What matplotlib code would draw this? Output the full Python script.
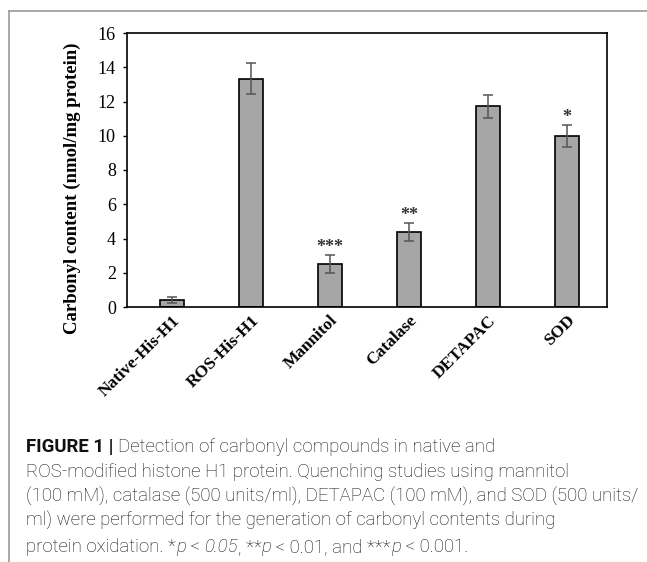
import matplotlib.pyplot as plt
from matplotlib.lines import Line2D
import numpy as np

# data
groups = ["Native-His-H1", "ROS-His-H1", "Mannitol", "Catalase", "DETAPAC", "SOD"]
carbonyl = [0.43, 13.33, 2.51, 4.36, 11.72, 9.97]
errors = [0.17, 0.90, 0.51, 0.53, 0.68, 0.63]
stars = ["", "", "***", "**", "", "*"]
yticks = [0, 2, 4, 6, 8, 10, 12, 14, 16]

serif = ["Liberation Serif", "DejaVu Serif"]

fig = plt.figure(figsize=(6.47, 5.62), dpi=100)
ax = fig.add_axes([127 / 647, 1 - 307 / 562, 480 / 647, 274 / 562])

x = np.arange(len(groups))
ax.bar(x, carbonyl, width=0.31, color="#a6a6a6", edgecolor="black", linewidth=1.2, zorder=2)
ax.errorbar(x, carbonyl, yerr=errors, fmt="none", ecolor="#555555", elinewidth=1.1,
            capsize=3.5, capthick=1.1, zorder=3)
for xi, v, e, s in zip(x, carbonyl, errors, stars):
    if s:
        ax.text(xi, v + e + 0.45, s, ha="center", va="center", fontsize=13,
                fontweight="bold", family=serif, color="#333333")

ax.set_xlim(-0.57, 5.51)
ax.set_ylim(0, 16)
ax.set_yticks(yticks)
ax.set_yticklabels([str(t) for t in yticks], family=serif, fontsize=13)
ax.tick_params(axis="y", direction="out", length=3, width=1, pad=5)
ax.tick_params(axis="x", length=0, pad=4)
ax.set_xticks(x)
ax.set_xticklabels(groups, rotation=45, ha="right", va="top", rotation_mode="anchor",
                   family=serif, fontweight="bold", fontsize=12.5)
for sp in ax.spines.values():
    sp.set_linewidth(1.2)

fig.text(72 / 647, 1 - 188 / 562, "Carbonyl content (nmol/mg protein)", rotation=90,
         ha="center", va="center", family=serif, fontweight="bold", fontsize=13.5)

# outer frame lines
fig.add_artist(Line2D([9 / 647, 1], [1 - 11 / 562, 1 - 11 / 562], color="#9a9a9a", lw=1.2))
fig.add_artist(Line2D([9 / 647, 9 / 647], [1 - 11 / 562, 0], color="#9a9a9a", lw=1.2))

# caption
cap_font = ["Roboto", "DejaVu Sans"]
cap_size = 13.4
lines = [
    "ROS-modified histone H1 protein. Quenching studies using mannitol",
    "(100 mM), catalase (500 units/ml), DETAPAC (100 mM), and SOD (500 units/",
    "ml) were performed for the generation of carbonyl contents during",
]
ys = [447, 472, 497, 521, 547]
fig.canvas.draw()
renderer = fig.canvas.get_renderer()


def run(pieces, y):
    # draw a line of text made of (string, weight, style) pieces one after another
    xpos = 26
    for s, w, st in pieces:
        t = fig.text(xpos / 647, 1 - y / 562, s, ha="left", va="center", family=cap_font,
                     fontweight=w, fontstyle=st, fontsize=cap_size, color="#111111")
        xpos = t.get_window_extent(renderer).x1


run([("FIGURE 1 | ", "bold", "normal"),
     ("Detection of carbonyl compounds in native and", "light", "normal")], ys[0])
for ln, yy in zip(lines, ys[1:4]):
    run([(ln, "light", "normal")], yy)
run([("protein oxidation. *", "light", "normal"), ("p", "light", "italic"),
     (" < ", "light", "normal"), ("0.05", "light", "italic"),
     (", **", "light", "normal"), ("p", "light", "italic"),
     (" < 0.01, and ***", "light", "normal"), ("p", "light", "italic"),
     (" < 0.001.", "light", "normal")], ys[4])

fig.savefig("out.png", dpi=100)
